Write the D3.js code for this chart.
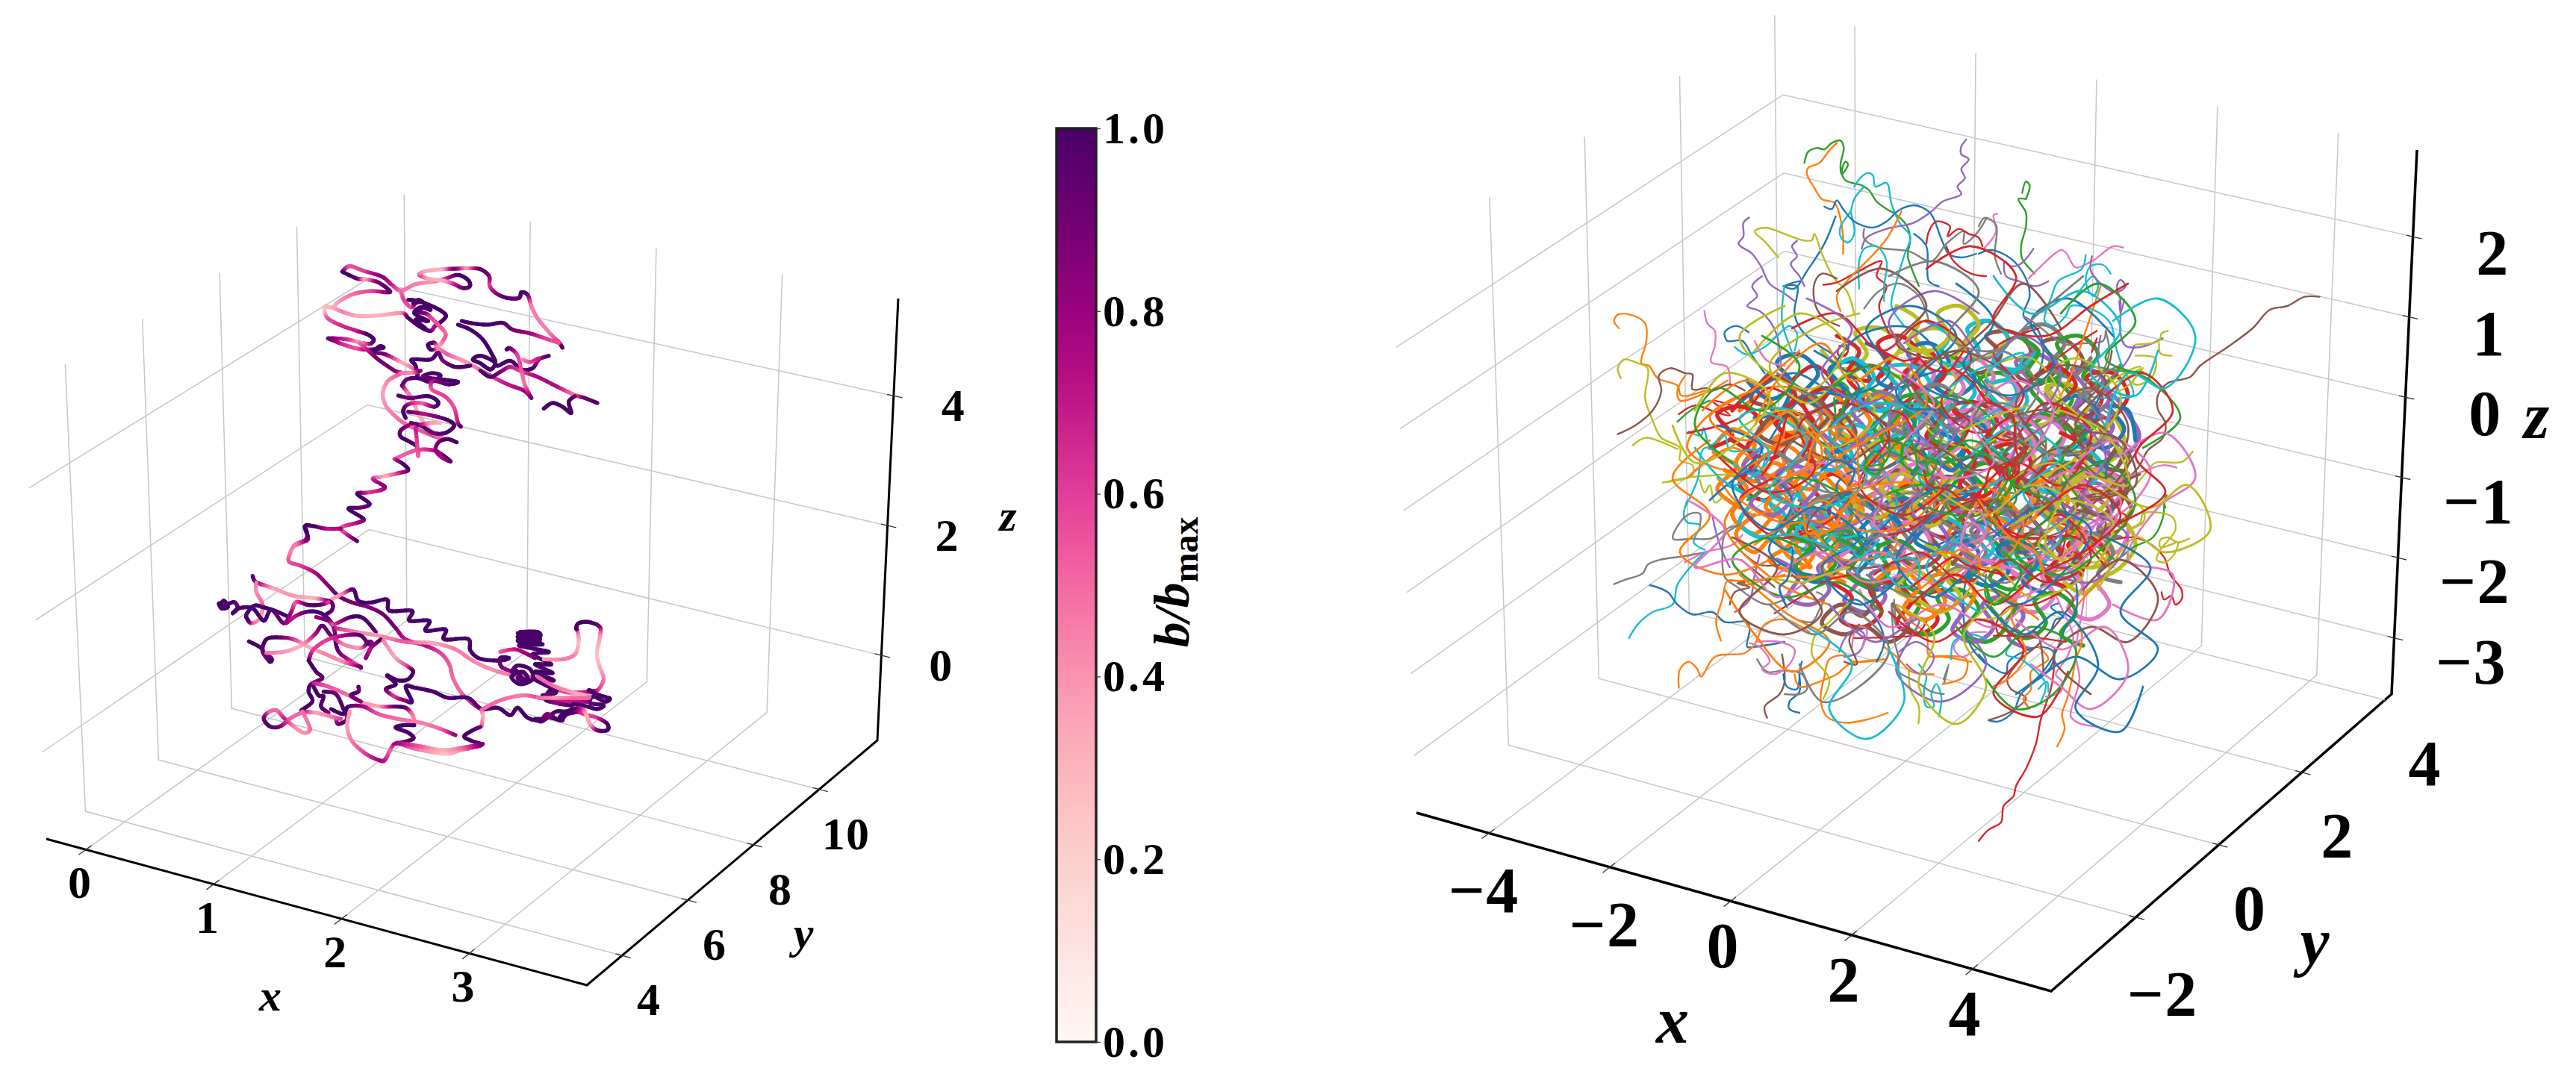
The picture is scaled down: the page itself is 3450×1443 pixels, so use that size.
<!DOCTYPE html>
<html><head><meta charset="utf-8">
<script src="https://cdn.jsdelivr.net/npm/d3@7"></script>
<style>html,body{margin:0;background:#fff}svg{display:block}text{font-family:"Liberation Serif",serif;font-weight:700;fill:#000}</style>
</head><body><svg id="c" width="3450" height="1443"></svg>
<script>
// ---------- axis values ----------
const leftXDomain=[-0.31,3.92], leftYDomain=[2.93,11.77], leftZDomain=[-1.31,5.5];
const leftXTicks=[0,1,2,3], leftYTicks=[4,6,8,10], leftZTicks=[0,2,4];
const rightXDomain=[-5.2,5.3], rightYDomain=[-2.04,6.16], rightZDomain=[-3.7,3.08];
const rightXTicks=[-4,-2,0,2,4], rightYTicks=[-2,0,2,4], rightYGrid=[0,2,4,6], rightZTicks=[-3,-2,-1,0,1,2];
const colorbarTicks=[0,0.2,0.4,0.6,0.8,1];
const tab10=["#1f77b4","#ff7f0e","#2ca02c","#d62728","#9467bd","#8c564b","#e377c2","#7f7f7f","#bcbd22","#17becf"];

// ---------- left trajectory, read as [u,v,b/bmax] triples in three reading windows ----------
const trajTop=[
[175,72,1,205,50,.55,265,70,.6,335,92,.85,375,125,.7,412,148,.5,470,122,.45,540,112,.4,590,100,.6,640,85,1,680,105,1,688,130,1,660,138,.95,620,120,.7,580,108,.35,520,100,.3,485,85,.6,510,70,.35,580,62,.3,630,60,.95,680,58,.35,730,62,.95,765,90,.9,768,130,.6,795,160,.8,840,178,1,885,178,.9,895,155,1,920,165,1,935,210,.45,960,260,.45,1010,320,.45,1045,355,.6,1060,378,1],
[175,72,1,235,100,1,270,103,.3,320,115,.9,365,148,1,355,155,.9,290,150,.6,220,162,.5,165,190,.4,135,215,.3,108,212,.3,105,235,.25,120,262,.55,175,290,.65,240,312,.7,278,325,1,302,345,1,285,362,.9,240,355,.3,200,345,.6,150,340,.75,118,340,1],
[135,215,.3,180,235,.45,240,250,.35,320,248,.3,415,238,.4,440,258,1,490,295,1,530,310,1,548,290,.7,570,275,1,592,250,1,570,228,1,530,208,1,480,190,1,440,185,1],
[412,155,.5,425,190,.6,455,215,.55,480,185,1,510,210,1,470,230,1,510,240,.9,530,255,.6,560,285,.55,590,320,.5,580,350,.55,555,380,.3,530,385,1,520,365,1,545,358,1,560,378,.4,600,405,.55,650,425,.4,700,450,.4,770,490,.6,840,525,.7,905,550,.75,935,580,1],
[460,200,1,500,195,1,530,225,1,490,215,1,465,240,1,520,270,1,470,265,1,510,300,1],
[118,340,1,180,365,.65,240,382,.55,290,385,.9,340,378,1,325,372,1,305,395,1,350,405,.9,420,440,.3,465,465,.5,478,490,.9,470,450,1,455,425,1,530,425,1,560,398,1,580,430,.85,630,455,1,690,450,1],
[240,355,.4,280,390,.7,320,425,.9,385,470,.9,410,480,.6,360,510,.45,338,560,.35,350,610,.4,385,650,.45,430,685,.5,500,715,.55,550,735,.6,590,745,.4],
[410,480,.5,460,478,.4,490,470,.9],
[640,285,1,690,305,1,740,345,1,780,410,1,790,440,1,770,465,1,730,440,1,700,425,1,730,410,1,780,430,1,800,450,1,850,430,1,895,465,1,940,460,1,965,425,.75,1005,410,1],
[655,270,1,700,280,1,760,285,1,820,278,1,860,305,.9,930,320,.8,990,340,.6,1045,358,.55],
[730,470,1,770,495,1,810,475,.9,850,455,.7,900,475,.6,960,495,.75,1040,535,.75,1110,568,.45,1150,580,.9,1200,600,1],
[985,622,1,1020,600,1,1060,615,1,1095,640,1,1085,595,1,1110,572,.95],
[835,385,.9,850,380,1,880,410,.6,895,470,.55,910,530,.45,935,580,.9],
[900,425,.4,930,435,.55,965,420,.7],
[415,530,1,435,505,.9,480,500,1,530,515,1,570,490,1,535,480,1,500,495,.9,575,505,1,640,515,1,600,525,1,540,510,.8,535,545,.55,590,575,.6,625,620,.55,640,680,.7,652,695,1],
[415,530,1,440,560,.45,460,595,.45,480,640,.3,510,690,.35,560,735,.5,590,745,.5],
[400,570,1,450,580,.9,520,572,1,560,595,1,545,615,1,490,600,.5,440,605,.7,420,630,1,430,660,1],
[440,635,1,510,645,.7,590,665,1,625,690,1,590,720,1,540,720,.9,490,690,1,450,680,.9],
[480,690,1,530,680,.4,570,680,.3],
[440,690,.8,410,710,.9,410,735,1,445,755,1,475,775,.95,480,810,.5,470,700,.7],
[385,825,.5,470,790,.55,540,790,.7,580,810,.9,610,835,1,570,815,.75,550,785,.8,565,755,.9,600,745,1,635,758,1],
[385,825,.55,420,845,1,440,870,1,400,882,.7,340,895,.3,298,905,.6,345,935,.9,330,950,.75,275,960,.6,235,965,1,285,1005,1,250,1020,.9,200,1025,1,260,1065,1,240,1080,.8,170,1100,.55,190,1125,.6,235,1155,1],
[170,1105,.8,110,1105,.7,60,1095,1,25,1095,1,38,1145,.9,15,1160,.6,-20,1175,.4]];
const trajBottom=[
[385,15,1,395,50,1,385,72,.9,345,90,.45,325,125,.45,322,158,.55,370,175,.6,430,205,.75,480,255,.85,520,295,.9,570,320,.9,640,340,.85,700,370,.9,750,425,.9,790,470,.7,870,495,.75,930,525,.6,965,570,.55,980,625,.5,1010,680,.5,1055,725,.6,1095,752,.9],
[490,310,.35,540,285,.4,580,270,1,600,315,1,650,322,1,715,310,1,725,355,1,815,355,1,805,395,1,885,395,1,870,435,1,950,430,1,945,470,1,1040,468,1,1050,515,1,1090,548,1,1170,555,1,1205,545,1,1170,545,1,1175,580,.9,1220,600,.75,1300,625,.5,1380,660,.5,1440,685,.35,1530,690,.4],
[175,215,1,190,240,.9,260,265,.35,340,295,.4,430,305,.3,490,320,1,495,350,.9,470,370,1],
[190,240,.5,190,280,.4,215,330,.5,205,385,.35,170,405,.5,155,390,1,150,370,1,180,335,1,215,340,1,265,355,1,320,380,1],
[45,330,1,60,315,1,75,340,1,50,345,1,40,325,1,60,335,1,100,320,1,115,345,.9,95,365,1,120,345,1,175,345,1,220,395,1,250,350,1,300,405,.9,330,360,.8,350,320,.5,400,332,.95,450,330,1,480,320,.6],
[310,405,.8,350,375,.7,400,358,1,450,365,1,490,400,.9,505,440,.85,510,490,1,530,530,.9,600,575,.5,610,585,.9],
[430,380,.8,480,395,.9,500,410,.55,570,380,1,620,385,1,670,440,.95],
[510,425,.7,590,440,.45,680,455,.4,790,480,.55,900,485,.35,990,510,.45,1050,550,.45,1120,585,.4,1200,610,.45,1300,630,.55,1430,680,.6,1530,680,.7],
[160,478,1,210,505,1,220,530,.7,245,560,1,250,545,1,215,520,.9,230,470,1,280,462,1,340,470,.65,400,500,.3,470,530,.45,540,560,.4,610,580,.9],
[230,525,.5,300,520,.4,370,495,.3,425,450,.7,455,415,1,490,455,.9,540,490,.45,610,505,.4,640,480,1,655,490,.8,630,545,.9,650,505,.7,690,470,1],
[400,555,1,420,510,.6,480,470,.6,560,452,.8,610,455,1,640,490,.95],
[400,555,1,430,600,1,455,625,.95,410,650,.9,400,680,1,415,720,1,370,755,1],
[700,475,.45,750,545,.35,800,580,.6,820,600,1,800,630,1,760,635,1,715,615,1,750,650,1,710,670,1,745,700,.6,785,715,.8,815,720,1,790,660,1,830,665,1,900,680,1,960,705,1,1040,705,1,1095,750,.9,1160,745,1,1210,775,1,1240,745,1,1280,785,1,1330,795,1,1360,770,.85,1410,795,1,1440,770,1,1500,760,.8],
[1095,752,.6,1100,780,.3,1095,820,.5],
[1100,750,.5,1170,715,.5,1260,695,.45,1330,705,.6,1400,715,.7,1480,720,.7,1530,720,.8],
[420,645,.7,480,660,.55,550,690,.5,620,725,.4,690,740,.35,750,740,.95,790,745,1,815,770,.5,825,795,.4],
[460,680,1,510,690,.9,540,750,1,555,790,.9,520,810,1,510,790,.7],
[600,660,1,600,680,.9,570,695,1,610,720,.8],
[420,660,1,440,695,1,460,700,1,450,740,1,480,765,.9],
[490,750,1,540,770,1,560,740,1,620,740,.8,680,770,.55,760,790,.5,850,805,.45,930,830,.5,990,855,.8],
[370,760,.9,430,765,.35,490,780,.45,530,790,.6],
[375,760,.5,395,800,.45,405,835,.5,380,845,.4,340,820,.4,300,785,.7,270,755,.5,235,765,.5,220,790,.9,245,820,1,285,820,.9,330,785,.5,370,765,.5],
[565,760,.4,555,820,.35,575,880,.45,630,930,.6,690,958,.8,710,950,.7,730,910,.5,755,888,.8,830,910,.5,950,930,.25,1010,915,.4,1095,895,.9,1060,880,1,1025,860,1,1060,835,1,1090,822,.9],
[755,888,.8,820,870,1,800,845,1,750,825,1,780,815,1,825,815,1],
[755,885,.8,850,900,.55,940,915,.3,1020,905,.5,1100,890,.9],
[1240,445,1,1330,450,1,1240,460,1,1330,470,1,1240,475,1,1340,490,1,1245,495,1,1365,520,1,1300,530,1,1375,570,1,1310,570,1,1380,605,1,1310,600,1,1385,635,1,1310,630,1,1395,680,1,1340,695,1],
[1250,440,1,1320,440,1,1325,462,1,1250,468,1,1255,485,1,1330,482,1],
[1170,520,.5,1230,510,.7,1280,530,.8,1310,545,.9],
[1215,600,1,1240,575,1,1290,590,1,1300,630,1,1250,650,1,1215,620,1,1260,600,1,1280,630,1,1240,625,1,1265,640,1,1235,595,1]];
const trajEnd=[
[25,220,.35,100,220,.45,150,200,.45,165,150,.25,160,105,.5,155,95,1,165,75,1,205,70,1,250,90,.95,250,130,.4,238,200,.25,250,250,.3,265,300,.45,240,345,.6,205,345,1,250,365,1,290,378,1,270,390,1,225,370,1,210,395,.9,265,405,1,240,420,1,200,410,1,150,400,1,130,405,1,70,395,.8,30,380,1,50,345,1,75,350,1,30,365,.9],
[0,290,.5,60,325,.5,130,350,.4,190,365,.3,205,375,.5,130,375,.5,60,375,.4,0,375,.5],
[0,460,1,30,460,1,45,450,.8,75,430,1,110,430,1,150,425,.95,185,440,.6,240,455,.6,280,480,1,280,505,1,240,505,1,210,480,.4,195,440,.3,180,420,.5,140,420,1,90,450,1,100,465,1,55,455,1,45,450,.8,15,470,1,-10,460,1]];

// ---------- right panel: densest part of the tangle, [colour index, u,v, ...] ----------
const denseStrands=[
[1,130,300,160,280,175,310,150,335,180,350,205,325,190,295,220,285,240,315,215,345,240,370,205,385,175,370,150,395,125,370,145,345],
[3,120,340,150,365,130,400,165,420,190,395,215,420,195,450,225,465,250,435,230,405,255,385,280,410,260,445,285,470],
[1,110,380,140,405,120,440,150,465,180,440,200,475,170,500,205,515,230,490,215,455,245,450,270,480,250,510,280,525],
[0,150,310,185,300,205,270,235,290,260,265,285,295,260,325,290,345,315,315,340,335,315,365,285,380,260,355,235,375],
[9,160,420,190,440,175,470,205,490,235,465,215,435,245,420,275,440,255,470,285,490,310,460,290,430,315,410,345,430],
[1,180,340,210,360,195,390,225,405,250,380,280,395,265,360,295,345,320,370,305,400,335,410,360,385,340,355,370,345],
[3,200,260,230,240,255,265,235,295,265,310,295,285,275,255,305,240,335,260,310,290,340,305,370,280,350,250,380,235],
[8,240,220,270,245,300,225,285,195,320,190,345,215,325,245,355,255,385,230,365,200,395,190,425,215,405,245,435,255],
[5,420,230,450,250,480,225,460,200,495,195,520,220,500,250,530,265,555,240,535,210,565,205,590,235,570,265,600,280],
[4,460,260,490,285,520,265,500,235,530,225,560,250,540,280,570,300,595,275,575,245,610,250,625,285,600,310,575,335],
[8,500,300,530,320,560,300,540,270,570,265,600,290,580,320,610,340,630,310,645,345,620,370,590,355,565,380,540,360],
[5,520,340,550,360,580,340,560,310,590,305,615,330,600,365,630,380,650,355,640,395,610,410,585,390,560,415,535,395],
[2,470,340,500,365,530,345,510,315,540,305,565,330,545,360,575,375,600,355,580,325,610,320,635,350,615,380,645,395],
[6,540,420,570,440,600,420,580,390,610,385,640,410,620,440,650,455,635,490,605,475,580,500,555,480,530,505,510,480],
[4,470,420,500,440,530,420,510,390,540,380,565,405,545,435,575,450,600,430,585,400,615,400,630,430,610,460,640,470],
[8,430,380,460,400,490,380,470,350,500,340,525,365,505,395,535,410,560,390,540,360,570,350,595,375,575,405,605,420],
[7,390,410,420,430,450,410,430,380,460,370,485,395,465,425,495,440,520,420,500,390,530,380,555,405,535,435,565,450],
[2,410,290,440,310,470,290,450,260,480,250,505,275,485,305,515,320,540,300,520,270,550,260,575,285,555,315,585,330],
[9,350,290,380,310,410,290,390,260,420,250,445,275,425,305,455,320,480,300,460,270,490,260,515,285,495,315],
[0,300,340,330,360,360,340,340,310,370,300,395,325,375,355,405,370,430,350,410,320,440,310,465,335,445,365],
[1,260,400,290,420,320,400,300,370,330,360,355,385,335,415,365,430,390,410,370,380,400,370,425,395,405,425],
[3,300,440,330,460,360,440,340,410,370,400,395,425,375,455,405,470,430,450,410,420,440,410,465,435,445,465],
[7,330,480,360,500,390,480,370,450,400,440,425,465,405,495,435,510,460,490,440,460,470,450,495,475,475,505],
[2,390,510,420,530,450,510,430,480,460,470,485,495,465,525,495,540,520,520,500,490,530,480,555,505,535,535],
[3,430,520,460,500,490,525,520,505,500,475,530,465,560,490,540,520,570,535,590,510,570,480,600,470,625,495],
[5,270,480,300,500,330,480,310,450,340,440,365,465,345,495,375,510,400,490,380,460,410,450,435,475,415,505],
[6,220,480,250,500,280,480,260,450,290,440,315,465,295,495,325,510,350,490,330,460,360,450,385,475,365,505],
[0,170,470,200,450,230,480,200,510,235,530,265,505,245,475,280,470,305,495,285,525,315,540,345,515,325,485],
[8,190,310,220,330,250,310,230,280,260,270,285,295,265,325,295,340,320,320,300,290,330,280,355,305,335,335],
[4,240,330,270,350,300,330,280,300,310,290,335,315,315,345,345,360,370,340,350,310,380,300,405,325,385,355],
[2,330,400,360,420,390,400,370,370,400,360,425,385,405,415,435,430,460,410,440,380,470,370,495,395,475,425],
[9,220,360,250,380,280,360,260,330,290,320,315,345,295,375,325,390,350,370,330,340,360,330,385,355,365,385],
[6,370,340,400,360,430,340,410,310,440,300,465,325,445,355,475,370,500,350,480,320,510,310,535,335,515,365],
[1,130,430,100,405,125,375,95,355,120,325,150,345,135,375,165,390,190,370,175,340,205,330,230,355,210,385],
[3,90,350,120,335,100,305,135,295,160,320,140,350,170,365,195,345,180,315,210,305,235,330,215,360,245,375],
[0,140,260,170,285,200,265,180,235,210,225,235,250,215,280,245,295,270,275,250,245,280,235,305,260,285,290],
[5,170,250,145,285,175,300,155,330,185,345,210,325,195,295,225,280,250,305,230,335,260,350,285,330,265,300],
[9,115,400,145,420,130,450,160,470,185,450,170,420,200,410,225,435,205,465,235,480,260,460,240,430,270,420],
[1,150,380,180,400,165,430,195,445,220,425,205,395,235,385,260,410,240,440,270,455,295,435,275,405,305,395],
[7,210,420,240,440,225,470,255,485,280,465,265,435,295,425,320,450,300,480,330,495,355,475,335,445,365,435],
[4,180,500,210,520,195,550,225,560,250,540,235,510,265,500,290,525,270,555,300,570,325,550,305,520,335,510],
[3,250,530,280,550,265,580,295,590,320,570,305,540,335,530,360,555,340,585,370,600,395,580,375,550,405,540],
[2,340,540,370,560,355,590,385,600,410,580,395,550,425,540,450,565,430,595,460,610,485,590,465,560,495,550],
[6,480,510,510,530,495,560,525,570,550,550,535,520,565,510,590,535,570,565,600,580,625,560,605,530],
[8,560,450,590,470,575,500,605,510,630,490,615,460,645,450,660,480,640,510,615,525,590,545,565,530],
[0,300,210,330,230,315,260,345,270,370,250,355,220,385,210,410,235,390,265,420,280,445,260,425,230],
[6,360,230,390,250,375,280,405,290,430,270,415,240,445,230,470,255,450,285,480,300,505,280,485,250],
[3,260,200,290,220,275,250,305,260,330,240,315,210,345,200,370,225,350,255,380,270,405,250,385,220],
[7,430,210,460,180,490,205,470,235,500,250,525,225,510,195,540,185,565,210,545,240,575,255,600,230],
[9,380,180,410,200,395,230,425,240,450,220,435,190,465,180,490,205,470,235,500,245,525,225],
[8,340,160,370,180,355,210,385,220,410,200,395,170,425,160,450,185,430,215,460,230,485,210],
[2,500,200,530,220,515,250,545,260,570,240,555,210,585,200,610,225,590,255,620,265,640,240],
[4,600,300,630,320,615,350,645,360,665,335,650,305,630,280,600,270,580,295,605,320],
[5,590,360,620,380,650,400,630,430,600,415,575,440,600,465,630,455,655,435,640,400,665,385],
[7,520,460,550,480,535,510,565,525,590,505,575,475,605,465,630,490,610,520,640,530],
[1,370,430,400,410,430,435,410,465,440,480,465,455,445,425,480,420,505,445,485,475,515,490],
[0,250,430,280,410,310,435,290,465,320,480,345,455,325,425,360,420,385,445,365,475,395,490],
[8,290,360,320,340,350,365,330,395,360,410,385,385,365,355,400,350,425,375,405,405,435,420],
[5,440,440,470,420,500,445,480,475,510,490,535,465,515,435,550,430,575,455,555,485,585,500],
[6,510,390,540,370,570,395,550,425,580,440,605,415,585,385,620,380,645,405,625,435],
[3,340,300,370,280,400,305,380,335,410,350,435,325,415,295,450,290,475,315,455,345,485,360],
[2,270,290,300,270,330,295,310,325,340,340,365,315,345,285,380,280,405,305,385,335,415,350],
[1,210,290,240,270,270,295,250,325,280,340,305,315,285,285,320,280,345,305,325,335,355,350],
[9,400,440,430,460,415,490,445,505,470,485,455,455,485,445,510,470,490,500,520,515,545,495],
[4,340,430,370,450,355,480,385,495,410,475,395,445,425,435,450,460,430,490,460,505,485,485],
[7,170,410,200,430,185,460,215,475,240,455,225,425,255,415,280,440,260,470,290,485,315,465],
[2,260,470,290,490,275,520,305,535,330,515,315,485,345,475,370,500,350,530,380,545,405,525],
[1,310,530,340,510,370,535,350,565,380,580,405,555,385,525,420,520,445,545,425,575],
[0,420,470,450,490,435,520,465,535,490,515,475,485,505,475,530,500,510,530,540,545],
[5,310,400,340,380,370,405,350,435,380,450,405,425,385,395,420,390,445,415,425,445],
[9,480,360,510,340,540,365,520,395,550,410,575,385,555,355,590,350,615,375,595,405],
[6,430,320,460,300,490,325,470,355,500,370,525,345,505,315,540,310,565,335,545,365],
[8,570,400,600,380,630,405,610,435,580,450,555,425,575,395,545,385,520,410,545,440],
[3,520,260,550,240,580,265,560,295,590,310,615,285,595,255,630,250,650,280,630,310],
[0,550,300,580,280,610,305,590,335,620,350,645,325,625,295,650,300,660,340],
[7,200,390,170,410,150,380,175,355,205,370,230,345,210,315,240,300,265,325,245,355,275,370],
[3,120,300,150,270,185,255,205,285,175,310,200,335,230,320,215,290,245,270,275,285,255,315],
[1,150,440,125,465,150,490,175,470,195,495,225,510,205,480,235,460,260,480,240,510,270,530],
[5,280,520,310,545,295,575,265,560,240,585,270,600,300,590,330,610,355,590,335,560],
[4,400,545,430,565,415,595,445,610,470,590,455,560,485,550,510,575,490,605,520,620],
[2,470,540,500,560,485,590,515,605,540,585,525,555,555,545,580,570,560,600,590,615],
[8,380,480,410,500,395,530,365,515,340,540,370,555,400,570,425,550,405,520,435,510],
[6,330,350,305,375,335,390,310,415,340,430,365,410,350,380,380,370,405,395,385,425],
[9,250,250,280,230,310,255,290,285,320,300,345,275,325,245,360,240,385,265,365,295],
[1,460,390,490,410,475,440,505,455,530,435,515,405,545,395,570,420,550,450,580,465],
[3,560,330,590,350,575,380,545,370,520,395,495,375,515,345,485,330,460,355,485,385],
[7,290,300,315,275,345,290,330,320,360,330,385,305,365,280,395,265,420,285,400,315,430,330],
[2,220,440,195,465,225,480,205,510,235,525,260,500,240,470,270,460,295,485,275,515,305,530],
[0,400,330,430,350,415,380,385,365,360,390,390,405,420,420,445,400,425,370,455,360,480,385],
[5,610,320,635,345,620,375,650,385,640,420,610,440,585,420,600,390,570,370,545,395],
[8,280,420,305,445,335,430,320,400,350,385,375,410,355,440,385,455,410,435,390,405,420,390],
[3,390,360,420,345,445,370,425,400,455,415,480,390,460,360,495,345,520,370,500,400,530,415],
[4,160,350,135,375,165,395,145,425,175,440,200,415,180,385,210,375,235,400,215,430,245,445]];

// central tangle at coarser scale
const coreStrands=[
[1,80,300,140,260,190,330,120,380,60,350,110,290,200,270,260,330,210,400,150,440,100,390],
[3,60,330,130,310,170,270,230,320,190,380,130,420,180,470,260,440,300,370,250,300],
[0,90,420,150,380,200,420,170,490,240,520,300,470,260,400,330,350,290,290,220,280,170,340],
[9,70,350,120,400,170,360,130,310,200,300,250,360,200,430,270,470,340,430,310,360],
[8,300,250,360,220,420,260,380,320,440,350,500,310,460,250,520,230,560,290,500,350],
[7,350,300,420,330,480,290,540,340,500,410,430,380,390,430,450,470,520,440,560,380],
[5,470,320,540,300,590,350,560,420,620,450,570,510,500,480,530,410,470,370],
[2,400,220,460,270,430,340,500,380,470,450,530,490,590,440,560,370,610,320],
[6,420,480,490,510,560,470,520,420,580,380,640,420,600,490,530,540,470,560],
[4,280,430,350,460,410,420,370,360,440,310,500,340,470,420,540,460,590,410],
[1,150,480,210,450,270,500,340,480,300,420,230,450,170,400,110,450,180,530,250,560],
[0,230,220,290,270,250,330,310,380,370,340,340,270,400,240,360,190,290,200,250,250],
[3,200,190,260,170,320,220,380,180,440,230,400,290,450,330,510,280,470,220,530,190],
[8,480,400,550,370,610,410,650,370,600,320,540,260,580,230,640,280,600,350,530,390],
[5,540,300,600,270,650,320,620,390,560,350,510,390,570,440,630,400,670,340],
[2,310,420,380,400,430,450,500,420,460,360,390,370,350,320,410,280,470,320,420,390],
[6,250,520,320,490,390,530,460,500,520,540,470,590,400,560,330,590,290,540],
[7,180,250,240,300,190,360,250,410,320,380,280,320,340,290,400,340,360,400,430,430],
[9,300,330,360,290,410,340,370,390,430,410,490,380,450,320,500,280,470,240,410,270],
[4,350,210,410,180,460,230,510,200,560,250,520,310,450,290,400,350,330,310,370,250],
[0,330,440,390,480,450,450,510,490,570,450,530,400,470,430,410,400,350,430,300,480],
[1,380,440,450,400,510,450,470,510,400,490,340,530,390,570,460,540,530,580],
[3,420,300,490,340,540,290,600,330,560,400,500,370,450,420,510,470,580,470,620,510],
[8,120,330,190,300,250,350,310,310,280,250,220,290,170,240,230,190,290,170],
[2,140,420,210,390,280,430,240,490,170,470,120,500,190,550,260,530,320,570],
[5,200,340,270,370,330,340,390,380,340,430,270,410,220,460,280,510,350,500],
[6,590,460,650,430,680,380,630,340,570,390,610,440,550,500,480,470,430,520],
[7,240,400,300,440,360,410,420,460,480,430,540,470,490,530,420,510,370,550,300,520],
[9,440,360,500,320,560,360,510,410,560,470,490,500,430,470,380,510,450,570],
[4,510,340,570,310,620,360,590,420,650,470,600,530,530,500,580,440,520,410],
[0,130,290,200,250,270,280,330,250,300,190,360,160,420,200,370,260,430,290],
[1,170,350,230,330,280,380,340,350,400,390,360,450,290,460,240,420,190,450,130,420],
[3,310,520,370,490,430,530,490,500,540,530,600,500,560,440,500,470,450,420,390,450],
[8,400,410,460,440,520,400,580,430,530,480,590,520,520,550,470,510,430,550],
[2,250,270,310,240,360,280,320,340,380,370,440,340,490,380,450,440,380,430],
[5,320,380,390,350,450,380,510,350,470,290,410,310,360,260,420,220,490,250],
[6,180,400,240,370,300,400,350,370,310,450,370,500,300,530,240,490,180,520],
[7,420,250,480,220,530,270,500,330,560,360,620,330,590,270,640,240],
[0,470,470,530,430,600,460,560,520,500,560,440,520,390,550,340,500,390,440],
[1,60,390,120,350,180,390,240,360,200,300,140,340,90,310,150,270,210,220],
[3,100,360,170,410,230,380,210,320,270,290,330,330,290,400,350,440,410,400],
[9,160,300,220,340,170,410,240,430,300,390,250,330,310,290,370,310,340,370],
[8,500,450,570,420,630,450,600,510,540,480,590,390,650,400,620,330,560,300],
[4,200,430,260,460,320,420,280,370,340,320,400,370,360,430,420,480,490,450],
[2,560,400,620,370,660,420,620,480,560,520,500,490,550,430,490,390,540,340],
[5,600,420,660,400,640,340,580,320,620,260,560,240,500,290,540,350],
[1,230,470,290,430,260,370,320,330,380,290,340,230,280,260,240,210,180,260,150,320],
[0,350,520,290,560,240,510,290,470,230,430,170,460,120,400,160,350,100,320],
[6,330,240,390,290,350,350,410,390,470,370,440,310,500,260,550,300,510,370],
[3,530,440,590,400,640,440,590,490,530,520,470,560,420,520,360,560],
[0,420,130,470,180,430,240,490,280,550,240,520,180,570,150,630,200],
[4,220,150,280,190,240,250,300,290,360,240,330,180,390,140,450,170],
[5,260,140,320,110,380,160,340,210,400,230,460,190,510,130,560,190],
[9,470,120,520,170,590,140,640,190,600,250,660,280,690,220],
[7,330,120,390,100,450,140,410,200,470,220,530,170,590,120],
[3,380,110,440,80,500,120,470,180,540,200,600,160,650,130],
[2,560,170,610,130,660,180,620,230,680,260,720,310,670,350],
[8,150,220,210,170,270,210,230,270,170,250,130,200,190,160],
[6,640,360,700,330,740,390,690,430,650,500,710,520,690,580,630,560],
[8,620,400,680,430,730,400,760,460,700,490,660,470,610,540],
[5,590,540,640,500,690,550,650,610,600,590,550,630,600,680],
[0,620,470,680,510,640,570,690,620,640,660,580,630,530,660],
[1,130,520,190,570,250,610,200,650,150,600,110,540],
[7,170,560,230,600,280,570,330,620,290,670,240,690,210,640],
[4,250,560,310,610,370,580,340,650,400,690,460,640,420,580],
[3,330,570,390,610,450,580,510,620,470,680,530,710,570,650],
[2,420,590,470,630,520,590,580,620,550,680,500,700,460,660],
[6,500,580,560,620,620,590,650,650,600,700,560,670,520,640],
[9,220,590,280,640,250,700,300,740,350,690,330,620],
[8,340,560,390,600,370,670,420,720,460,670,430,600,480,550],
[0,460,560,510,600,560,570,610,640,580,700,640,730,670,670],
[5,120,470,180,510,130,570,190,600,240,570,200,520],
[1,90,340,40,390,90,440,50,490,110,520,170,500],
[6,60,420,110,460,70,510,130,500,180,550,230,520],
[3,620,280,670,250,710,300,660,360,700,410,640,450],
[9,630,180,690,150,740,200,700,270,650,250,620,320],
[2,160,200,210,240,160,300,100,270,70,320,120,370],
[8,70,300,110,250,170,280,130,340,70,370,40,320]];

// outlying strands in four reading windows of the picture
const strandsNW=[
[2,800,145,815,100,850,85,880,90,910,65,945,55,958,85,945,150,950,190,975,150,965,140,950,180,965,215,1030,235,1060,255,1090,300,1130,330,1165,350,1210,395,1225,450,1215,520,1235,580,1260,640],
[1,930,65,900,95,860,145,815,165,810,190,840,245,870,290,920,305,940,350,955,440,955,510],
[9,1000,240,1030,200,1055,185,1075,195,1085,240,1130,225,1150,310,1185,390,1225,440,1200,520,1170,620,1150,720,1200,800],
[9,1040,240,1000,290,985,340,945,400,945,440,975,465,1000,430,985,340],
[4,1450,50,1430,80,1430,110,1460,130,1430,170,1445,205,1415,240,1430,270,1355,300,1310,340,1240,385,1130,410,1050,445,1030,490],
[0,880,320,910,330,930,295,955,330,1000,380,1075,405,1130,380,1180,335,1240,315,1300,340,1320,370,1350,450,1380,510,1430,525,1490,510],
[0,925,360,880,470,810,580,760,650,720,640,780,620],
[4,578,365,555,385,555,440,535,470,590,510,625,560,660,630,720,670,760,700],
[8,695,525,640,460,600,420,640,405,720,430,790,455,830,455,840,430,870,510,920,610,970,660,1000,750],
[4,770,458,750,480,770,520,745,550,780,600,800,640],
[4,630,600,590,640,610,680,570,720,620,740,660,780,690,840,705,950],
[6,398,740,410,790,440,820,440,880,425,945,490,965,500,1040],
[0,575,825,525,800,480,825,490,860,550,860,590,920,640,990],
[9,520,885,570,915,640,885,690,840,740,800,770,830,760,900],
[1,55,810,35,780,50,755,100,755,160,790,165,860,145,950,175,960,210,1010,290,1040,305,1080,400,1060],
[8,62,1010,50,970,75,935,130,950,170,970,160,1090,190,1180,225,1250,300,1290,300,1340,350,1360,350,1400,230,1430,330,1410,440,1400,520,1395],
[8,110,1280,160,1250,220,1265,290,1295],
[5,50,1235,120,1200,190,1140,225,1060,215,1000,260,970,320,990,350,995,350,1055,410,1050,430,1060,500,1035,560,1060],
[3,295,1155,360,1120,440,1145,500,1160,430,1100,540,1130],
[2,290,1185,350,1135,420,1100],
[1,320,1000,290,1060,300,1100,400,1070,490,1020],
[9,335,1225,385,1240,395,1210,420,1280,480,1240,500,1300,620,1300,640,1340,600,1400,400,1290,370,1420,320,1530],
[8,380,1420,400,1470,420,1440,440,1510,470,1490],
[3,875,635,930,625,1000,590,1110,540,1090,600,1130,640,1100,720,1140,830],
[5,930,610,870,590,840,630,845,720,880,770,940,800],
[7,1040,410,1040,450,1100,485,1220,500,1310,540,1370,470,1440,420,1440,470,1490,430,1530,370],
[3,1290,470,1300,420,1330,380,1385,400,1375,440,1420,410,1460,430,1500,445,1515,480],
[3,1370,480,1400,540,1470,590,1530,600],
[0,1240,430,1290,480,1300,620,1340,640],
[9,1020,650,1020,540,1040,490,1090,480,1130,540,1120,640,1120,700],
[0,715,640,770,640,760,750,790,820,860,880,920,920,945,960],
[9,720,640,710,780,740,880,770,950],
[1,945,740,930,680,980,610,1060,530,1130,450,1190,340],
[7,1040,730,1100,660,1180,630,1260,680,1300,780],
[6,600,860,650,940,720,960],
[3,940,880,975,880,965,920,935,915,945,880,975,900,950,925]];
const strandsNE=[
[5,1370,683,1310,683,1240,720,1170,735,1100,810,1000,885,890,960,850,1005,760,1030,720,1080,720,1135,750,1190,740,1250,680,1300,640,1370,560,1440,450,1480,340,1500],
[2,190,290,160,290,190,345,190,400,170,480,175,530,225,590],
[2,190,290,205,235,190,220,175,265],
[6,580,485,540,480,470,530,445,545,390,565,350,505,330,495,240,570,200,610],
[6,75,350,60,355,70,420,20,490],
[7,0,400,25,365,70,395,65,520,90,590],
[0,0,510,50,495,130,530,190,610,205,680,180,760,240,820,260,900,240,1000],
[4,220,490,170,550,130,560,105,540,110,600,160,620,230,640,280,620],
[9,430,515,415,570,320,620,290,690,265,780,300,800,350,760,370,720,470,740,530,790,550,880,580,970,610,1030,620,1080,540,1090,400,1080],
[9,530,590,500,555,450,560,430,620,460,680,480,640,460,600,380,700],
[4,455,520,450,575,480,620,550,665,590,640,570,615,555,640,570,700,570,830,590,880,650,885,740,850],
[4,585,695,570,745,565,700],
[8,760,820,735,830,725,860,630,875],
[8,725,870,730,910,775,920],
[8,630,920,670,920,710,930,700,1000,650,1035,620,1030,650,965,550,1010,500,1050,400,1060,370,1080],
[8,660,970,600,1040,560,1060,550,1030,610,1000,640,975],
[4,625,880,590,950,490,1040,400,1100,330,1200],
[7,510,820,500,860,420,870,350,875,290,840,240,800,180,760],
[7,510,820,525,900,510,960,480,1020,450,1060,400,1080,480,1110,560,1165,520,1150,460,1110],
[3,475,820,420,855,330,920,250,985],
[3,475,850,455,905],
[1,490,640,450,760,410,880,370,1000,340,1060,290,1170],
[2,270,900,330,940,400,965,470,965,560,980,660,985],
[5,535,900,525,950,480,1050,400,1130,340,1200],
[4,490,840,480,940,520,1090,530,1240,520,1320],
[4,520,1230,590,1280,580,1295,530,1240,480,1230,410,1290],
[3,520,1165,440,1200,400,1240,380,1220,390,1260,355,1290],
[3,455,1245,430,1300,390,1380],
[0,490,1080,440,1170,400,1280,350,1320,420,1320,460,1350,520,1340,510,1400,540,1530],
[8,860,1305,820,1345,780,1350,710,1350,680,1380,620,1450,580,1470,470,1490,380,1500],
[6,795,1370,740,1360,660,1385,500,1440,400,1460],
[5,580,1465,450,1490,360,1500,200,1520],
[3,580,1465,470,1460,380,1450],
[2,755,1480,745,1510,750,1530],
[3,0,1060,70,1120,140,1170,150,1250,140,1320]];
const strandsSW=[
[7,35,338,80,320,150,295,170,260,220,240,320,225,400,210],
[6,320,250,400,210,510,180,550,140],
[9,95,555,130,500,190,450,270,420,290,340,350,260,400,210],
[9,330,0,315,60,330,90,380,100,355,170,400,200],
[7,380,100,380,55,340,55,300,90,272,155,350,155,420,155,500,110,540,100],
[0,180,342,250,370,290,420,350,460,430,450,480,490,570,490,580,520,570,590,600,590,720,570],
[4,430,60,440,110,460,180,480,230,500,270],
[7,540,100,480,140,470,220,480,310,530,350,600,400,650,420,720,400],
[1,465,565,445,490,470,400,490,325,530,325,570,340,640,320,730,305,800,310,900,300],
[1,295,755,300,680,335,650,370,680,385,710,440,630,560,615,600,580,640,500,720,480,820,530],
[5,500,420,520,370,580,350,530,335,560,330],
[5,650,875,640,830,700,780,720,730,710,620],
[0,780,855,740,840,740,810,780,770,780,690,790,650],
[0,715,700,730,750,770,760,780,700],
[7,720,780,780,780,810,760,790,700,720,685,650,690,610,640],
[6,580,575,620,590,660,650,630,680,680,700,740,660,760,600,700,570,610,570],
[1,1135,855,1060,880,960,895,890,870,865,800,880,710,900,640,960,625,1000,650,1120,640],
[1,760,700,780,750,860,730,930,700,980,660,1060,645,1120,640],
[8,875,800,900,720,830,620,850,530,900,490,960,430,1000,400],
[8,1258,898,1260,830,1225,760,1220,680],
[9,1340,870,1350,790,1330,740,1310,780,1320,830,1290,830,1280,760,1290,710,1260,660],
[7,1360,780,1310,770,1250,730,1180,690,1180,640,1160,560,1150,420],
[7,1360,740,1380,660,1360,720],
[1,1120,590,1170,630,1230,690,1320,700],
[1,1355,740,1440,710,1450,640,1300,630],
[1,1470,650,1360,630,1300,625,1290,540,1200,470,1170,430],
[4,940,610,960,560,1000,520,1040,540,1020,610,960,630],
[6,990,600,1010,510,1050,520,1030,600],
[4,1180,610,1250,570,1320,630,1270,700,1210,660],
[3,1000,555,1150,550,1250,540,1290,490],
[0,1090,650,1120,570,1090,480,1000,400,950,490],
[6,1530,530,1450,540,1400,590,1430,630,1490,600],
[9,1390,640,1400,570,1470,540,1530,560],
[0,1530,660,1470,590,1440,480,1460,300,1530,260],
[3,680,455,800,380,900,320,1000,300],
[7,850,370,880,390,860,440,830,490,770,480],
[5,540,200,620,260,700,260],
[5,545,240,620,300,680,350],
[4,520,450,580,400,600,300,620,220],
[1,490,325,620,320,720,300],
[7,1150,420,1165,500,1160,400],
[5,960,650,1010,660,980,560,1020,500]];
const strandsSE=[
[3,0,1370,40,1325,90,1295,100,1230,140,1190,150,1150,190,1080,230,980,250,880,290,760,300,700,305,600],
[1,315,990,345,920,335,860,355,800,375,720,390,640,410,590,415,540,390,490],
[6,480,912,400,895,370,870,385,800,405,720,390,620,400,530,410,480,420,350,370,300],
[3,735,370,745,400,775,385,790,420,815,400,815,360,770,300,745,230,680,170,620,150,535,160],
[2,745,0,740,70,700,150,620,190,550,238,480,190,420,150,340,160],
[8,845,155,800,170,760,150,730,160,730,190,770,180,800,170,790,210,750,250,715,240,730,200,790,120,780,70,720,50,660,55,650,90,600,120,660,90,665,50,640,20,600,50,570,110,500,160,450,140,400,170,340,220,390,240,470,250,520,220,400,220,340,240],
[1,390,430,460,350,525,280,500,230,460,190,400,90],
[6,550,95,520,70,470,80,410,130,370,240,300,280],
[6,480,5,520,20,540,90],
[3,540,130,590,100,590,60,560,55,530,110,525,140,580,0],
[3,385,210,410,225,400,255,380,250,395,215,412,240,385,255],
[0,0,620,50,670,110,695,120,650,240,590,300,610,290,670,170,780,140,850,80,890,40,885],
[5,40,885,130,850,190,795,130,760,115,720,170,640,240,580,350,450,380,400,320,345,260,340],
[1,55,750,130,710,190,620,130,460,170,370],
[1,185,810,205,840,180,800,210,760,210,690,280,640,240,590],
[9,250,810,270,740,210,670,170,640,110,620,130,580],
[9,240,760,275,730,280,770],
[0,300,500,290,530,310,480,340,470,290,430,320,415],
[6,270,790,330,770,335,730,310,700,350,640,380,550,340,450,290,340],
[0,150,780,250,700,310,610,350,510,390,450,390,330,370,290],
[3,60,545,200,550,350,570],
[3,80,540,70,500,120,430,220,420,330,370],
[5,120,545,150,520,190,545,230,530,250,580,260,690],
[2,30,300,30,390,70,420,150,340,170,290,120,230],
[8,0,480,80,470,130,430],
[6,320,250,370,200,420,120,470,85,530,80,550,95,510,130],
[1,0,100,30,60,100,130,200,165,240,220,260,290,350,275],
[5,10,60,130,130,260,150,350,110,360,60,200,30],
[3,330,230,350,100,310,100],
[4,530,175,470,85,380,70]];
const strandsCentre=[
[3,530,70,600,100,660,90,700,130,780,140,820,90,840,60],
[3,800,130,880,190,930,260,1000,290,1040,330,1045,430,1060,490],
[3,1020,510,1060,510,1050,560,1010,575,1000,530,1050,515,1060,550,1020,570,1015,520,1050,530,1030,565],
[3,1010,530,950,530,920,610,840,660,780,620,700,600,680,540],
[2,440,520,480,465,520,500,490,555,440,530,520,510,560,440,590,430,590,510,650,540,625,420,600,440,600,520,700,560,730,510,690,490,700,560],
[1,210,540,240,420,310,370,370,370,410,420,415,510,430,610,480,600,540,590,640,590],
[1,430,610,370,680,300,780,210,790,200,720],
[9,50,810,150,800,250,830,340,865,380,850,420,890,500,820],
[9,410,950,440,900,470,920,490,880,520,900,540,870,560,900,620,890,660,920,650,990,590,1010,540,970,500,920],
[8,380,930,280,960,190,990,60,970],
[1,630,1040,700,990,780,900,820,860,900,900,900,960],
[3,630,1010,720,940,800,890,850,920,1000,960],
[0,50,810,130,860,150,850,130,980,100,1010,130,1090],
[2,320,210,340,185,375,210,360,280,330,330,320,250],
[0,770,330,740,300,620,290,570,240],
[3,550,300,600,320,635,380],
[2,940,1060,930,1000,960,1080,1020,1040,1070,940,980,860],
[6,830,830,860,720,900,700,930,780,880,860,830,830,870,750,920,800,870,830],
[1,900,660,960,740,1040,820,1130,870,1160,950],
[5,1000,400,1080,440,1070,510,1000,480,1060,420],
[7,430,820,530,800,620,780,700,780],
[3,130,320,100,420,70,500,30,560],
[8,820,390,900,350,1000,310,1100,280],
[9,940,140,1010,90,1080,70,1050,140,960,190,930,170],
[0,270,540,330,500,400,540,380,600],
[3,640,740,700,720,620,780,540,800]];

// ---------- projection helpers ----------
function panel(xd,yd,zd,corners){
  const xs=d3.scaleLinear().domain(xd).range([0,1]),ys=d3.scaleLinear().domain(yd).range([0,1]),zs=d3.scaleLinear().domain(zd).range([0,1]);
  const lerp=(a,b,t)=>[a[0]+(b[0]-a[0])*t,a[1]+(b[1]-a[1])*t];
  const P=(x,y,z)=>{const tx=xs(x),ty=ys(y),tz=zs(z);
    const bot=lerp(lerp(corners.A,corners.B,tx),lerp(corners.D,corners.C,tx),ty);
    const top=lerp(lerp(corners.A1,corners.B1,tx),lerp(corners.D1,corners.C1,tx),ty);
    return lerp(bot,top,tz);};
  return {P,xd,yd,zd};
}
const leftPanel=panel(leftXDomain,leftYDomain,leftZDomain,{A:[62,1124],B:[786,1320],C:[1175,992],D:[495,819],A1:[32,521],B1:[746,671],C1:[1203,400],D1:[489,250]});
const rightPanel=panel(rightXDomain,rightYDomain,rightZDomain,{A:[1897,1089],B:[2747,1328],C:[3203,930],D:[2393,724],A1:[1865,347],B1:[2715,534],C1:[3237,201],D1:[2387,14]});

const svg=d3.select("#c");
const grid="#c6c6c6";
function drawBox(g,pn,xT,yT,zT,axisW){
  const {P,xd,yd,zd}=pn, line=d3.line();
  const add=(pts,c,w)=>g.append("path").attr("d",line(pts)).attr("fill","none").attr("stroke",c).attr("stroke-width",w).attr("stroke-linejoin","miter");
  zT.forEach(z=>add([P(xd[0],yd[0],z),P(xd[0],yd[1],z),P(xd[1],yd[1],z)],grid,1.5));
  xT.forEach(x=>add([P(x,yd[0],zd[0]),P(x,yd[1],zd[0]),P(x,yd[1],zd[1])],grid,1.5));
  yT.forEach(y=>add([P(xd[1],y,zd[0]),P(xd[0],y,zd[0]),P(xd[0],y,zd[1])],grid,1.5));
  add([P(xd[0],yd[0],zd[0]),P(xd[1],yd[0],zd[0]),P(xd[1],yd[1],zd[0]),P(xd[1],yd[1],zd[1])],"#000",axisW);
  const tick=(p,a,b)=>{const dx=a[0]-b[0],dy=a[1]-b[1],n=Math.hypot(dx,dy);
    add([[p[0]-dx/n*9,p[1]-dy/n*9],[p[0]+dx/n*12,p[1]+dy/n*12]],"#333",1.3);};
  xT.forEach(x=>tick(P(x,yd[0],zd[0]),P(x,yd[0],zd[0]),P(x,yd[1],zd[0])));
  yT.forEach(y=>tick(P(xd[1],y,zd[0]),P(xd[1],y,zd[0]),P(xd[0],y,zd[0])));
  zT.forEach(z=>tick(P(xd[1],yd[1],z),P(xd[1],yd[1],z),P(xd[0],yd[1],z)));
}
function tickLabel(g,p,dx,dy,v,fs){
  g.append("text").attr("x",p[0]+dx).attr("y",p[1]+dy).attr("text-anchor","middle").attr("dominant-baseline","central")
   .attr("font-size",fs).attr("letter-spacing",fs*0.02).text(String(v).replace("-","\u2212"));
}
function axisLabel(g,x,y,t,fs){
  g.append("text").attr("x",x).attr("y",y).attr("text-anchor","middle").attr("dominant-baseline","central")
   .attr("font-size",fs).attr("font-style","italic").text(t);
}

// ---------- left panel ----------
const gL=svg.append("g");
drawBox(gL,leftPanel,leftXTicks,leftYTicks,leftZTicks,3);
{const {P,yd,zd,xd}=leftPanel,fs=62;
 leftXTicks.forEach(v=>tickLabel(gL,P(v,yd[0],zd[0]),-8,44,v,fs));
 leftYTicks.forEach(v=>tickLabel(gL,P(xd[1],v,zd[0]),36,59,v,fs));
 leftZTicks.forEach(v=>tickLabel(gL,P(xd[1],yd[1],v),80,13,v,fs));
 axisLabel(gL,362,1334,"x",60);axisLabel(gL,1076,1250,"y",60);axisLabel(gL,1350,691,"z",60);}

function win(ox,oy,size){return {u:d3.scaleLinear().domain([0,size*3]).range([ox,ox+size]),v:d3.scaleLinear().domain([0,size*3]).range([oy,oy+size])};}
function drawTraj(list,w){
  const g=gL.append("g").attr("fill","none").attr("stroke-linecap","round").attr("stroke-width",5.2);
  list.forEach(s=>{
    const p=[];for(let i=0;i<s.length;i+=3)p.push([w.u(s[i]),w.v(s[i+1]),s[i+2]]);
    for(let i=0;i<p.length-1;i++){
      const a=p[Math.max(i-1,0)],b=p[i],c=p[i+1],d=p[Math.min(i+2,p.length-1)];
      // Catmull-Rom smoothing between two read points, drawn as short coloured pieces
      const sm=t=>{const f=k=>0.5*((2*b[k])+(-a[k]+c[k])*t+(2*a[k]-5*b[k]+4*c[k]-d[k])*t*t+(-a[k]+3*b[k]-3*c[k]+d[k])*t*t*t);return [f(0),f(1)];};
      const n=6;let prev=sm(0);
      for(let j=1;j<=n;j++){const q=sm(j/n);
        g.append("line").attr("x1",prev[0]).attr("y1",prev[1]).attr("x2",q[0]).attr("y2",q[1])
         .attr("stroke",d3.interpolateRdPu(b[2]+(c[2]-b[2])*(j-.5)/n));prev=q;}
    }
  });
}
drawTraj(trajTop,win(400,340,420));
drawTraj(trajBottom,win(280,700,520));
drawTraj(trajEnd,win(720,810,120));

// ---------- colourbar ----------
const barY=d3.scaleLinear().domain([0,1]).range([1396,172]);
const defs=svg.append("defs");
const grad=defs.append("linearGradient").attr("id","rdpu").attr("x1",0).attr("x2",0).attr("y1",1).attr("y2",0);
d3.range(0,1.0001,0.05).forEach(t=>grad.append("stop").attr("offset",t).attr("stop-color",d3.interpolateRdPu(t)));
svg.append("rect").attr("x",1415).attr("y",172).attr("width",53).attr("height",1224).attr("fill","url(#rdpu)").attr("stroke","#222").attr("stroke-width",3.5);
const barAxis=svg.append("g").attr("transform","translate(1468,0)").call(d3.axisRight(barY).tickValues(colorbarTicks).tickFormat(d3.format(".1f")).tickSize(6).tickPadding(3));
barAxis.select(".domain").remove();
barAxis.selectAll("line").attr("stroke","#333").attr("stroke-width",1.3);
barAxis.selectAll("text").attr("font-size",60).attr("font-family",'"Liberation Serif",serif').attr("font-weight",700).attr("fill","#000").attr("letter-spacing",4);
const lab=svg.append("text").attr("transform","translate(1592,780) rotate(-90)").attr("text-anchor","middle").attr("font-size",68);
lab.append("tspan").attr("font-style","italic").text("b/b");
lab.append("tspan").attr("font-size",48).attr("dy",12).text("max");

// ---------- right panel ----------
const gR=svg.append("g");
drawBox(gR,rightPanel,rightXTicks,rightYGrid.slice(0,3),rightZTicks,3.5);
{const {P,yd,zd,xd}=rightPanel,fs=86;
 rightXTicks.forEach(v=>tickLabel(gR,P(v,yd[0],zd[0]),v<0?-7:-10,v<0?77:60,v,fs));
 rightYTicks.forEach(v=>tickLabel(gR,P(xd[1],v,zd[0]),153+v*3,v<0?6:-12,v,fs));
 rightZTicks.forEach(v=>tickLabel(gR,P(xd[1],yd[1],v),v<0?103:107,v<0?32:22,v,fs));
 axisLabel(gR,2240,1367,"x",88);axisLabel(gR,3100,1261,"y",88);axisLabel(gR,3397,557,"z",88);
 // vertical and floor line of the y=6 grid position, which carries no label
 const y6=rightYGrid[3],l=d3.line();
 gR.append("path").attr("d",l([P(xd[1],y6,zd[0]),P(xd[0],y6,zd[0]),P(xd[0],y6,zd[1])])).attr("fill","none").attr("stroke",grid).attr("stroke-width",1.5);
}
function drawStrands(list,w,width){
  const line=d3.line().curve(d3.curveCatmullRom.alpha(.5));
  gR.append("g").attr("fill","none").attr("stroke-width",width).attr("stroke-linecap","round").attr("stroke-linejoin","round")
   .selectAll("path").data(list).join("path")
   .attr("stroke",s=>tab10[s[0]])
   .attr("d",s=>{const p=[];for(let i=1;i<s.length;i+=2)p.push([w.u(s[i]),w.v(s[i+1])]);return line(p);});
}
const coreWin={u:d3.scaleLinear().domain([0,750]).range([2200,2950]),v:d3.scaleLinear().domain([0,750]).range([250,1000])};
drawStrands(denseStrands,coreWin,5.5);
drawStrands(strandsNW,win(2150,170,510),2.4);
drawStrands(strandsNE,win(2650,170,510),2.4);
drawStrands(strandsSW,win(2150,670,510),2.4);
drawStrands(strandsSE,win(2650,670,510),2.4);
drawStrands(coreStrands,coreWin,2.8);
drawStrands(strandsCentre,win(2350,450,400),2.8);
</script></body></html>
